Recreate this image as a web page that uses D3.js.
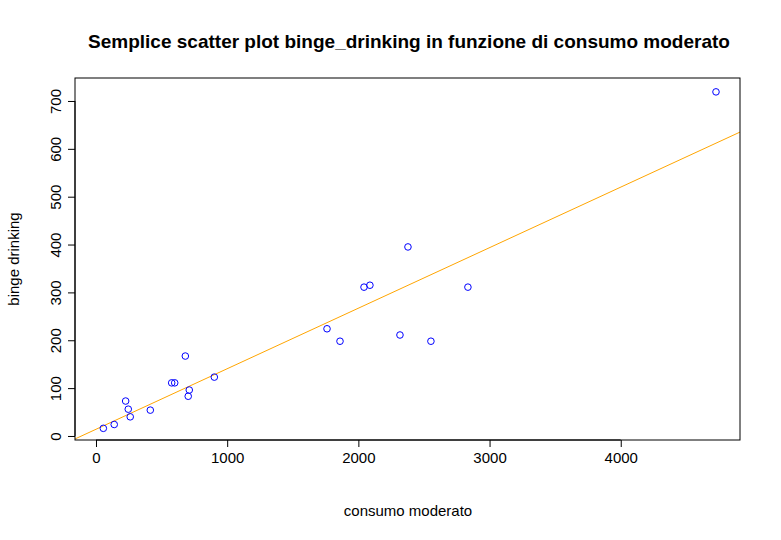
<!DOCTYPE html>
<html><head><meta charset="utf-8">
<script src="https://cdn.jsdelivr.net/npm/d3@7"></script>
<style>body{margin:0;background:#fff;font-family:"Liberation Sans",Arial,sans-serif}</style>
</head><body>
<div id="chart"></div>
<script>
// values
var consumo = [56, 139, 226, 246, 261, 414, 577, 600, 681, 711, 703, 902, 1761, 1860, 2043, 2088, 2317, 2378, 2553, 2835, 4726];
var binge = [16, 24, 73, 56, 40, 54, 111, 111, 167, 96, 83, 123, 224, 198, 311, 315, 211, 395, 198, 311, 719];
var xTicks = [0, 1000, 2000, 3000, 4000];
var yTicks = [0, 100, 200, 300, 400, 500, 600, 700];
var fitA = 14, fitB = 0.1265;

var W = 781, H = 540;
var margin = {top: 78, right: 41, bottom: 100, left: 75};

var svg = d3.select("#chart").append("svg")
  .attr("width", W).attr("height", H);

var x = d3.scaleLinear().domain([-160, 4909]).range([margin.left, W - margin.right]);
var y = d3.scaleLinear().domain([-8.4, 748]).range([H - margin.bottom, margin.top]);

svg.append("defs").append("clipPath").attr("id", "clip")
  .append("rect")
  .attr("x", margin.left).attr("y", margin.top)
  .attr("width", W - margin.left - margin.right)
  .attr("height", H - margin.top - margin.bottom);

// regression line
svg.append("line")
  .attr("clip-path", "url(#clip)")
  .attr("x1", x(-160)).attr("y1", y(fitA + fitB * -160))
  .attr("x2", x(4909)).attr("y2", y(fitA + fitB * 4909))
  .style("stroke", "orange").style("stroke-width", 1);

// points
svg.selectAll("circle")
  .data(consumo)
  .enter()
  .append("circle")
    .attr("cx", d => x(d))
    .attr("cy", (d, i) => y(binge[i]))
    .attr("r", 3.3)
    .style("fill", "none")
    .style("stroke", "blue");

// box
svg.append("rect")
  .attr("x", margin.left).attr("y", margin.top)
  .attr("width", W - margin.left - margin.right)
  .attr("height", H - margin.top - margin.bottom)
  .style("fill", "none").style("stroke", "#000");

// axes
var xAxis = svg.append("g")
  .attr("transform", "translate(0," + (H - margin.bottom) + ")")
  .call(d3.axisBottom(x).tickValues(xTicks).tickFormat(d3.format("d")).tickSize(7).tickPadding(5));
var yAxis = svg.append("g")
  .attr("transform", "translate(" + margin.left + ",0)")
  .call(d3.axisLeft(y).tickValues(yTicks).tickFormat(d3.format("d")).tickSize(7).tickPadding(5));
[xAxis, yAxis].forEach(function (g) {
  g.select(".domain").remove();
  g.selectAll("text").style("font-size", "15px").style("font-family", "Liberation Sans, Arial").attr("fill", "#000");
});
xAxis.append("line").attr("x1", x(0)).attr("x2", x(4000)).style("stroke", "#000");
yAxis.append("line").attr("y1", y(0)).attr("y2", y(700)).style("stroke", "#000");
yAxis.selectAll(".tick text")
  .attr("transform", "rotate(-90)")
  .attr("x", 0).attr("y", -14).attr("dy", "0")
  .style("text-anchor", "middle");

// titles
svg.append("text").attr("x", 409).attr("y", 48)
  .attr("text-anchor", "middle")
  .style("font-size", "19px").style("font-weight", "bold")
  .text("Semplice scatter plot binge_drinking in funzione di consumo moderato");
svg.append("text").attr("x", 408).attr("y", 516)
  .attr("text-anchor", "middle").style("font-size", "15px")
  .text("consumo moderato");
svg.append("text")
  .attr("transform", "translate(19," + 259 + ") rotate(-90)")
  .attr("text-anchor", "middle").style("font-size", "15px")
  .text("binge drinking");
</script>
</body></html>
